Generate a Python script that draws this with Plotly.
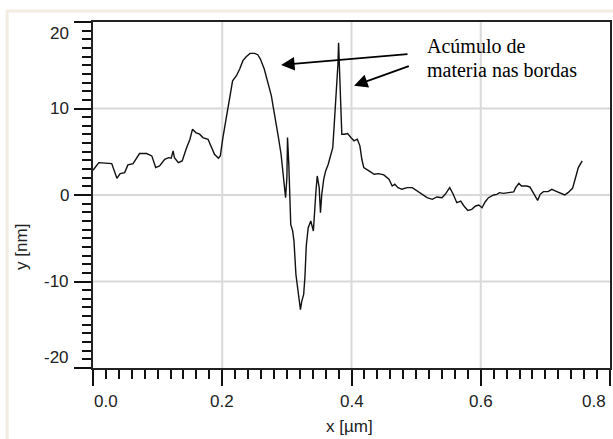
import plotly.graph_objects as go

# Surface height profile across the scratch
x_um = [0.000, 0.009, 0.029, 0.037, 0.042, 0.049, 0.054, 0.062, 0.072, 0.083,
        0.091, 0.097, 0.103, 0.111, 0.117, 0.121, 0.124, 0.126, 0.132, 0.138,
        0.144, 0.150, 0.154, 0.159, 0.165, 0.170, 0.178, 0.183, 0.188, 0.194,
        0.197, 0.201, 0.206, 0.211, 0.216, 0.222, 0.227, 0.232, 0.237, 0.243,
        0.250, 0.255, 0.259, 0.265, 0.270, 0.276, 0.279, 0.283, 0.287, 0.291,
        0.293, 0.296, 0.298, 0.300, 0.301, 0.303, 0.305, 0.306, 0.309, 0.311,
        0.314, 0.317, 0.319, 0.321, 0.323, 0.326, 0.328, 0.330, 0.333, 0.337,
        0.341, 0.342, 0.345, 0.347, 0.350, 0.352, 0.354, 0.357, 0.360, 0.364,
        0.368, 0.371, 0.373, 0.376, 0.377, 0.379, 0.380, 0.381, 0.382, 0.383,
        0.385, 0.389, 0.394, 0.399, 0.404, 0.409, 0.413, 0.416, 0.419, 0.427,
        0.435, 0.442, 0.450, 0.458, 0.463, 0.467, 0.472, 0.478, 0.486, 0.494,
        0.502, 0.509, 0.517, 0.525, 0.532, 0.540, 0.545, 0.552, 0.557, 0.563,
        0.569, 0.574, 0.580, 0.586, 0.592, 0.597, 0.602, 0.607, 0.612, 0.620,
        0.625, 0.629, 0.635, 0.643, 0.651, 0.654, 0.659, 0.663, 0.671, 0.676,
        0.681, 0.688, 0.692, 0.697, 0.704, 0.710, 0.716, 0.723, 0.730, 0.735,
        0.742, 0.746, 0.751, 0.757]
y_nm = [2.86, 3.74, 3.63, 1.93, 2.47, 2.59, 3.48, 3.63, 4.79, 4.79,
        4.52, 3.17, 3.36, 4.13, 4.32, 4.25, 5.10, 4.32, 3.74, 3.94,
        5.29, 6.45, 7.61, 7.22, 7.03, 6.64, 6.45, 5.68, 4.71, 4.25,
        4.52, 6.64, 8.96, 11.27, 13.20, 13.79, 14.56, 15.53, 15.99, 16.37,
        16.37, 16.22, 15.72, 14.56, 13.20, 11.47, 10.12, 8.57, 6.64, 4.71,
        3.16, 1.24, -0.31, 2.00, 6.64, 3.56, -1.85, -3.40, -4.17, -5.33,
        -9.19, -11.10, -11.90, -13.25, -12.30, -11.50, -9.39, -5.90, -3.79, -3.00,
        -4.17, -2.63, 0.46, 2.20, 0.85, -2.05, 0.08, 1.82, 2.78, 3.56,
        4.71, 5.48, 7.80, 10.90, 12.80, 15.10, 17.60, 15.10, 14.70, 9.73,
        7.03, 7.03, 7.10, 6.64, 6.26, 6.45, 5.68, 4.13, 3.17, 2.78,
        2.40, 2.47, 2.32, 1.82, 1.04, 1.24, 0.85, 0.66, 0.85, 0.85,
        0.46, 0.08, -0.31, -0.50, -0.23, -0.31, 0.08, 0.85, 0.15, -0.89,
        -0.70, -1.27, -1.78, -1.66, -1.27, -1.16, -1.47, -0.78, -0.31, 0.00,
        0.08, 0.27, 0.19, 0.27, 0.35, 0.85, 1.35, 1.04, 1.04, 0.93,
        0.27, -0.62, 0.08, 0.39, 0.39, 0.66, 0.46, 0.27, 0.00, 0.27,
        0.77, 1.82, 3.17, 3.94]

x_ticks = [0.0, 0.2, 0.4, 0.6, 0.8]
x_tick_text = ["0.0", "0.2", "0.4", "0.6", "0.8"]
y_ticks = [20, 10, 0, -10, -20]
y_tick_text = ["20", "10", "0", "-10", "-20"]

x_title = "x [µm]"
y_title = "y [nm]"
note_lines = ["Acúmulo de", "materia nas bordas"]

TICK_FONT = dict(family="Liberation Sans, Arial, sans-serif", size=17, color="#222222")
NOTE_FONT = dict(family="Liberation Serif, Times New Roman, serif", size=20, color="#000000")
GRID = "#d9d9d9"

fig = go.Figure()

# light grid at the inner major ticks
for v in x_ticks[1:-1]:
    fig.add_vline(x=v, line=dict(color=GRID, width=2), layer="below")
for v in y_ticks[1:-1]:
    fig.add_hline(y=v, line=dict(color=GRID, width=2), layer="below")

fig.add_trace(go.Scatter(x=x_um, y=y_nm, mode="lines",
                         line=dict(color="#111111", width=1.4),
                         showlegend=False, hoverinfo="skip"))

# tick labels are placed as annotations below, so the axis label slots stay empty
fig.update_xaxes(range=[0, 0.8], tickmode="array", tickvals=x_ticks,
                 ticktext=[""] * len(x_ticks), showgrid=False,
                 showline=True, linecolor="#222222", linewidth=2, mirror=True,
                 ticks="outside", ticklen=16, tickcolor="#111111", tickwidth=1.6,
                 zeroline=False,
                 minor=dict(dtick=0.02, tick0=0, ticks="outside", ticklen=9,
                            tickcolor="#111111", tickwidth=1.6, showgrid=False))
fig.update_yaxes(range=[-20, 20], tickmode="array", tickvals=y_ticks,
                 ticktext=[""] * len(y_ticks), showgrid=False,
                 showline=True, linecolor="#222222", linewidth=2, mirror=True,
                 ticks="outside", ticklen=17, tickcolor="#111111", tickwidth=1.6,
                 zeroline=False,
                 minor=dict(dtick=1, tick0=0, ticks="outside", ticklen=9,
                            tickcolor="#111111", tickwidth=1.6, showgrid=False))

annotations = []
# x tick labels (end labels kept inside the frame)
for v, t in zip(x_ticks, x_tick_text):
    anchor = "center"
    shift = 0
    if v == x_ticks[0]:
        anchor = "left"
        shift = -1
    elif v == x_ticks[-1]:
        anchor = "right"
        shift = -2
    annotations.append(dict(x=v, y=0, xref="x", yref="paper", text=t,
                            showarrow=False, xanchor=anchor, yanchor="middle",
                            xshift=shift, yshift=-33, font=TICK_FONT))
# y tick labels (end labels kept inside the frame)
for v, t in zip(y_ticks, y_tick_text):
    shift = 0
    if v == y_ticks[0]:
        shift = -11
    elif v == y_ticks[-1]:
        shift = 11
    annotations.append(dict(x=0, y=v, xref="paper", yref="y", text=t,
                            showarrow=False, xanchor="right", yanchor="middle",
                            xshift=-22, yshift=shift, font=TICK_FONT))
# axis titles
annotations.append(dict(x=0.5, y=0, xref="paper", yref="paper", text=x_title,
                        showarrow=False, xanchor="center", yanchor="middle",
                        xshift=-2, yshift=-58, font=TICK_FONT))
annotations.append(dict(x=0, y=-6, xref="paper", yref="y", text=y_title,
                        showarrow=False, xanchor="center", yanchor="middle",
                        textangle=-90, xshift=-71, font=TICK_FONT))
# note with arrows pointing at the two ridges
annotations.append(dict(x=0.291, y=15.03, ax=0.489, ay=16.30, xref="x", yref="y",
                        axref="x", ayref="y", text="", showarrow=True,
                        arrowhead=2, arrowsize=1.5, arrowwidth=1.8,
                        arrowcolor="#000000", standoff=0))
annotations.append(dict(x=0.404, y=12.63, ax=0.491, ay=14.95, xref="x", yref="y",
                        axref="x", ayref="y", text="", showarrow=True,
                        arrowhead=2, arrowsize=1.5, arrowwidth=1.8,
                        arrowcolor="#000000", standoff=0))
annotations.append(dict(x=0.514, y=17.2, xref="x", yref="y", text=note_lines[0],
                        showarrow=False, xanchor="left", yanchor="middle",
                        font=NOTE_FONT))
annotations.append(dict(x=0.514, y=14.4, xref="x", yref="y", text=note_lines[1],
                        showarrow=False, xanchor="left", yanchor="middle",
                        font=NOTE_FONT))

fig.update_layout(
    width=613, height=439,
    margin=dict(l=93, r=1, t=22, b=71),
    paper_bgcolor="#ffffff", plot_bgcolor="#ffffff",
    annotations=annotations,
)
fig.add_shape(type="rect", xref="paper", yref="paper",
              x0=-0.166, x1=1.2, y0=-0.3, y1=1.032,
              fillcolor="rgba(0,0,0,0)",
              line=dict(color="#f2ede0", width=3), layer="above")

fig.write_html("out.html")
